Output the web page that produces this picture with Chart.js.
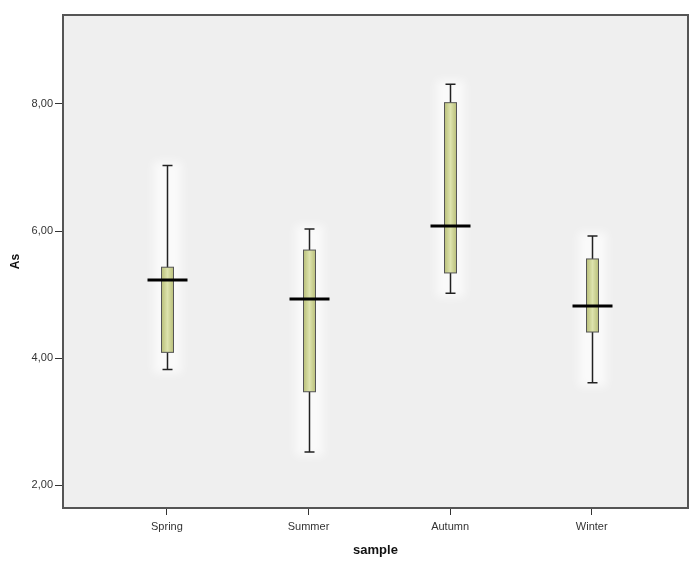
<!DOCTYPE html>
<html>
<head>
<meta charset="utf-8">
<script src="https://cdn.jsdelivr.net/npm/chart.js@4.4.0/dist/chart.umd.min.js"></script>
<style>
html,body{margin:0;padding:0;background:#fff}
canvas{display:block}
</style>
</head>
<body>
<canvas id="grafico" width="689" height="563"></canvas>
<script>
// dados (boxplot SPSS)
const categorias = ['Spring', 'Summer', 'Autumn', 'Winter'];
const minimos  = [3.82, 2.52, 5.02, 3.61];
const q1       = [4.09, 3.47, 5.34, 4.41];
const medianas = [5.23, 4.93, 6.08, 4.82];
const q3       = [5.43, 5.70, 8.02, 5.56];
const maximos  = [7.03, 6.03, 8.31, 5.92];
const yTicks   = [2, 4, 6, 8];

const fonte = '"Liberation Sans", Arial, sans-serif';

// desenha caixas, bigodes e medianas usando as escalas do Chart.js
const caixasPlugin = {
    id: 'caixas',
    beforeDraw(chart){
        const {ctx, chartArea:a} = chart;
        ctx.save();
        ctx.fillStyle = '#fff';
        ctx.fillRect(0, 0, chart.width, chart.height);
        ctx.fillStyle = '#efefef';
        ctx.fillRect(a.left, a.top, a.right - a.left, a.bottom - a.top);
        ctx.restore();
    },
    afterDatasetsDraw(chart){
        const {ctx, scales:{x, y}} = chart;
        ctx.save();
        categorias.forEach((c, i) => {
            const px = Math.round(x.getPixelForValue(i)) + 0.5;
            const yMin = y.getPixelForValue(minimos[i]);
            const yMax = y.getPixelForValue(maximos[i]);
            const yQ1 = y.getPixelForValue(q1[i]);
            const yQ3 = y.getPixelForValue(q3[i]);
            const yMed = y.getPixelForValue(medianas[i]);
            // halo claro e difuso
            ctx.save();
            ctx.filter = 'blur(5px)';
            ctx.fillStyle = 'rgba(255,255,255,0.7)';
            ctx.fillRect(px - 14, yMax - 4, 28, yMin - yMax + 8);
            ctx.restore();
            // bigode
            ctx.strokeStyle = '#222';
            ctx.lineWidth = 1.5;
            ctx.beginPath();
            ctx.moveTo(px, yMax); ctx.lineTo(px, yMin);
            ctx.moveTo(px - 5, yMax); ctx.lineTo(px + 5, yMax);
            ctx.moveTo(px - 5, yMin); ctx.lineTo(px + 5, yMin);
            ctx.stroke();
            // caixa
            const g = ctx.createLinearGradient(px - 6, 0, px + 6, 0);
            g.addColorStop(0, '#b9bf7a');
            g.addColorStop(0.5, '#dde3ad');
            g.addColorStop(1, '#b9bf7a');
            ctx.fillStyle = g;
            ctx.fillRect(px - 6, yQ3, 12, yQ1 - yQ3);
            ctx.strokeStyle = '#555';
            ctx.lineWidth = 1;
            ctx.strokeRect(px - 6, yQ3, 12, yQ1 - yQ3);
            // mediana
            ctx.strokeStyle = '#000';
            ctx.lineWidth = 3;
            ctx.beginPath();
            ctx.moveTo(px - 20, yMed); ctx.lineTo(px + 20, yMed);
            ctx.stroke();
        });
        ctx.restore();
    },
    afterDraw(chart){
        const {ctx, chartArea:a} = chart;
        ctx.save();
        ctx.strokeStyle = '#555';
        ctx.lineWidth = 2;
        ctx.beginPath();
        ctx.moveTo(a.left, a.top); ctx.lineTo(a.right, a.top); ctx.lineTo(a.right, a.bottom);
        ctx.stroke();
        ctx.restore();
    }
};

new Chart(document.getElementById('grafico').getContext('2d'), {
    type: 'scatter',
    data: {
        datasets: [{
            data: medianas.map((m, i) => ({x: i, y: m})),
            pointRadius: 0,
            showLine: false
        }]
    },
    options: {
        responsive: false,
        devicePixelRatio: 1,
        animation: false,
        layout: {padding: {top: 15, right: 1, left: 0, bottom: 0}},
        plugins: {legend: {display: false}, tooltip: {enabled: false}},
        scales: {
            x: {
                type: 'linear',
                min: -0.734,
                max: 3.68,
                afterBuildTicks: s => { s.ticks = categorias.map((c, i) => ({value: i})); },
                afterFit: s => { s.height = 55; },
                ticks: {
                    callback: v => categorias[v],
                    font: {family: fonte, size: 11},
                    color: '#333',
                    padding: 5,
                    maxRotation: 0
                },
                grid: {drawOnChartArea: false, tickLength: 7, tickColor: '#333'},
                border: {display: true, color: '#555', width: 2},
                title: {display: true, text: 'sample', font: {family: fonte, size: 13, weight: 'bold'}, color: '#111', padding: {top: 0, bottom: 5}}
            },
            y: {
                min: 1.64,
                max: 9.40,
                afterBuildTicks: s => { s.ticks = yTicks.map(v => ({value: v})); },
                afterFit: s => { s.width = 63; },
                ticks: {
                    callback: v => v.toFixed(2).replace('.', ','),
                    font: {family: fonte, size: 11},
                    color: '#333',
                    padding: 2
                },
                grid: {drawOnChartArea: false, tickLength: 8, tickColor: '#333'},
                border: {display: true, color: '#555', width: 2},
                title: {display: true, text: 'As', font: {family: fonte, size: 12, weight: 'bold'}, color: '#111', padding: {top: 8, bottom: 0}}
            }
        }
    },
    plugins: [caixasPlugin]
});
</script>
</body>
</html>
